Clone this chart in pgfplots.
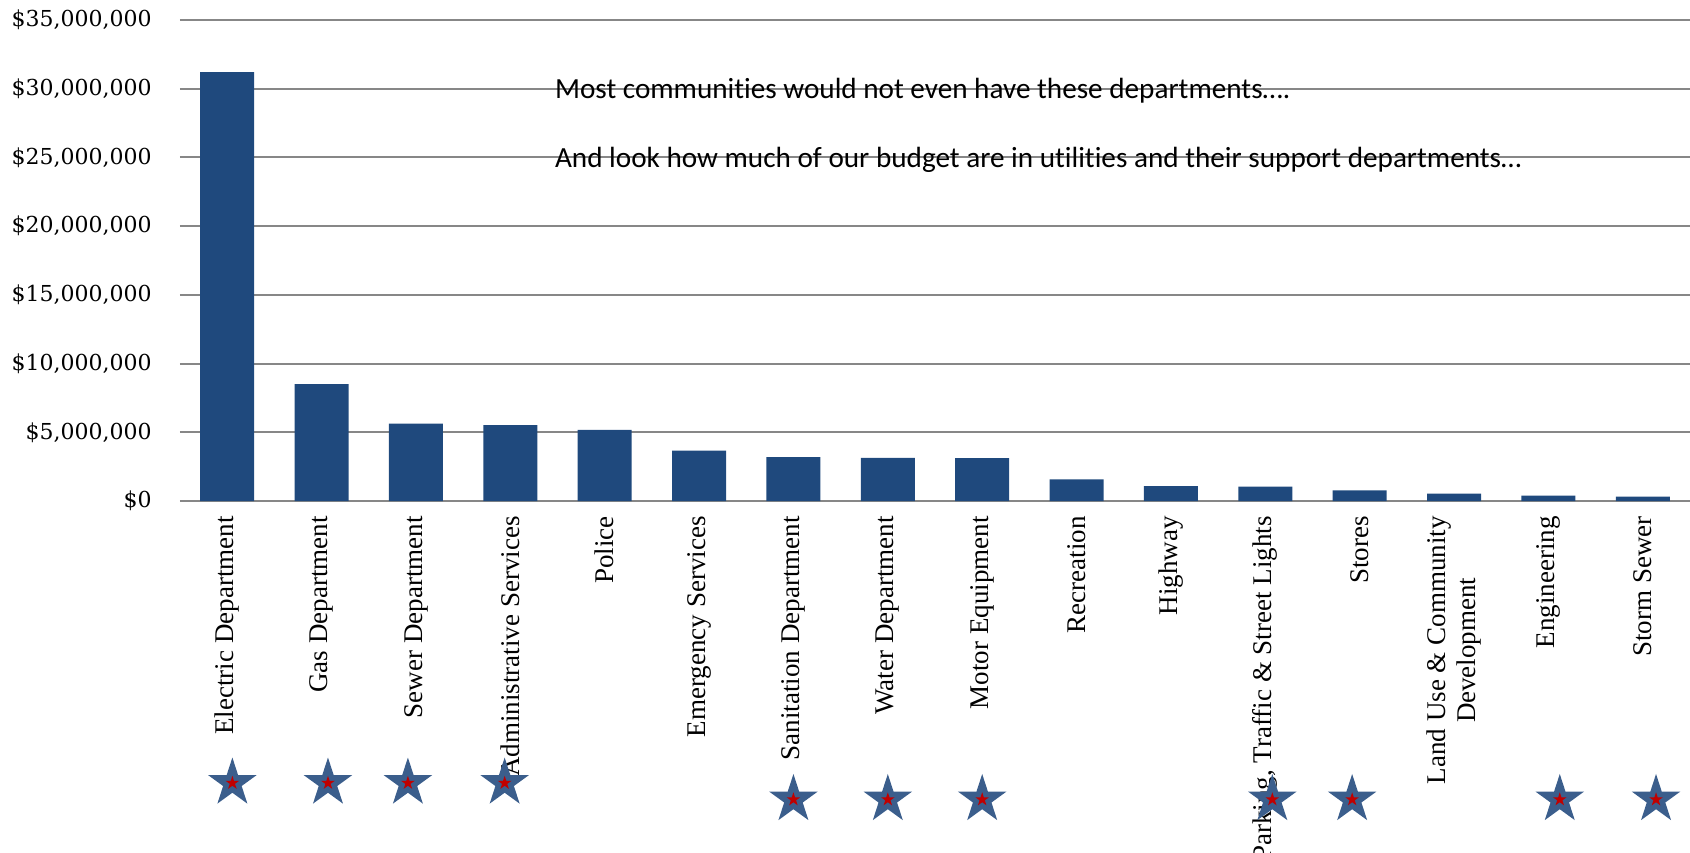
\documentclass[border=0pt]{standalone}
\usepackage{pgfplots}
\pgfplotsset{compat=1.18}
\usepackage{fontspec}
\setmainfont{Liberation Serif}
\newfontfamily\dejaserif{DejaVu Serif}
\newfontfamily\carlito[Ligatures=NoCommon]{Carlito}
\definecolor{barblue}{RGB}{31,73,125}
\definecolor{starblue}{RGB}{59,94,140}
\definecolor{starred}{RGB}{192,0,0}
\definecolor{gridgray}{RGB}{135,135,135}
\pgfdeclareplotmark{fivestar}{%
  \pgfpathmoveto{\pgfpointpolar{90}{\pgfplotmarksize}}%
  \pgfpathlineto{\pgfpointpolar{126}{0.382\pgfplotmarksize}}%
  \pgfpathlineto{\pgfpointpolar{162}{\pgfplotmarksize}}%
  \pgfpathlineto{\pgfpointpolar{198}{0.382\pgfplotmarksize}}%
  \pgfpathlineto{\pgfpointpolar{234}{\pgfplotmarksize}}%
  \pgfpathlineto{\pgfpointpolar{270}{0.382\pgfplotmarksize}}%
  \pgfpathlineto{\pgfpointpolar{306}{\pgfplotmarksize}}%
  \pgfpathlineto{\pgfpointpolar{342}{0.382\pgfplotmarksize}}%
  \pgfpathlineto{\pgfpointpolar{18}{\pgfplotmarksize}}%
  \pgfpathlineto{\pgfpointpolar{54}{0.382\pgfplotmarksize}}%
  \pgfpathclose
  \pgfusepathqfill
}
\begin{document}
\begin{tikzpicture}
\begin{axis}[
  at={(90pt,175.5pt)}, anchor=south west,
  width=755pt, height=240.5pt, scale only axis,
  xmin=-0.5, xmax=15.5, ymin=0, ymax=35000000,
  clip=false,
  axis line style={draw=none},
  major tick length=0pt,
  ymajorgrids, grid style={gridgray, line width=1pt},
  ytick={0,5000000,10000000,15000000,20000000,25000000,30000000,35000000},
  yticklabels={{\$0},{\$5,000,000},{\$10,000,000},{\$15,000,000},{\$20,000,000},{\$25,000,000},{\$30,000,000},{\$35,000,000}},
  scaled y ticks=false,
  yticklabel style={font=\dejaserif\fontsize{11}{13}\selectfont, anchor=east, inner sep=0pt, xshift=-14pt},
  xtick={0,1,2,3,4,5,6,7,8,9,10,11,12,13,14,15},
  xticklabels={{Electric Department},{Gas Department},{Sewer Department},{Administrative Services},{Police},{Emergency Services},{Sanitation Department},{Water Department},{Motor Equipment},{Recreation},{Highway},{Parking, Traffic \& Street Lights},{Stores},{Land Use \& Community\\Development},{Engineering},{Storm Sewer}},
  xticklabel style={font=\fontsize{13.5}{15}\selectfont, yshift=-7.5pt, rotate=90, anchor=east, inner sep=0pt, align=center},
]
\addplot[ybar, bar width=27pt, bar shift=0pt, fill=barblue, draw=none] coordinates {
  (0,31200000) (1,8500000) (2,5630000) (3,5530000) (4,5170000) (5,3670000)
  (6,3190000) (7,3140000) (8,3120000) (9,1580000) (10,1090000) (11,1050000)
  (12,780000) (13,540000) (14,390000) (15,320000)
};
\addplot[only marks, mark=fivestar, mark size=12.75pt, color=starblue] coordinates {
  (0.055,-20520000) (1.068,-20520000) (1.915,-20520000) (2.94,-20520000)
  (6,-21720000) (7,-21720000) (8,-21720000) (11.074,-21720000) (11.92,-21720000)
  (14.12,-21720000) (15.14,-21720000)
};
\addplot[only marks, mark=fivestar, mark size=3.6pt, color=starred] coordinates {
  (0.055,-20520000) (1.068,-20520000) (1.915,-20520000) (2.94,-20520000)
  (6,-21720000) (7,-21720000) (8,-21720000) (11.074,-21720000) (11.92,-21720000)
  (14.12,-21720000) (15.14,-21720000)
};
\node[anchor=base west, inner sep=0pt, font=\carlito\fontsize{14.6}{17}\selectfont] at (axis cs:3.47,29260000) {Most communities would not even have these departments….};
\node[anchor=base west, inner sep=0pt, font=\carlito\fontsize{14.6}{17}\selectfont] at (axis cs:3.47,24260000) {And look how much of our budget are in utilities and their support departments…};
\end{axis}
\pgfresetboundingbox
\useasboundingbox (0,0) rectangle (845pt,426pt);
\end{tikzpicture}
\end{document}
